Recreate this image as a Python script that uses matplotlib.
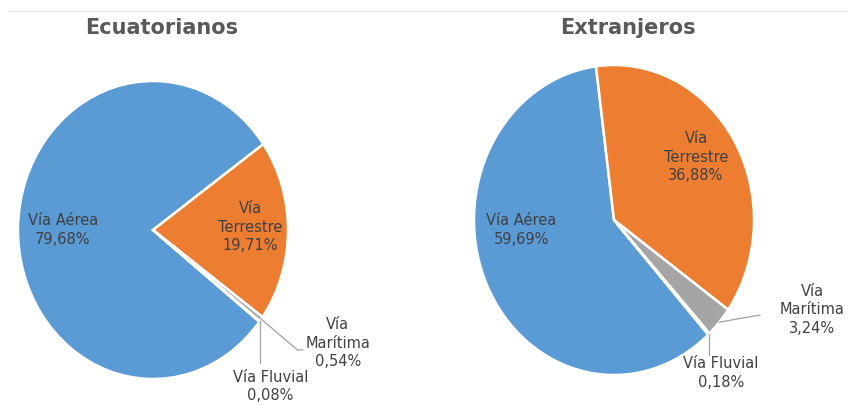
import numpy as np
import matplotlib.pyplot as plt
from matplotlib.lines import Line2D

# data
categories = ["Vía Aérea", "Vía Terrestre", "Vía Marítima", "Vía Fluvial"]
ecuatorianos = [79.68, 19.71, 0.54, 0.08]
extranjeros = [59.69, 36.88, 3.24, 0.18]
titles = ["Ecuatorianos", "Extranjeros"]
label_ecu = ["Vía Aérea\n79,68%", "Vía\nTerrestre\n19,71%", "Vía\nMarítima\n0,54%", "Vía Fluvial\n0,08%"]
label_ext = ["Vía Aérea\n59,69%", "Vía\nTerrestre\n36,88%", "Vía\nMarítima\n3,24%", "Vía Fluvial\n0,18%"]

colors = ["#5B9BD5", "#ED7D31", "#A5A5A5", "#FFC000"]
txt = "#404040"
fs = 10.5

W, H = 848, 405
fig = plt.figure(figsize=(W / 100, H / 100), dpi=100)
fig.patch.set_facecolor("white")

# thin line at the top
fig.add_artist(Line2D([8 / W, 1], [1 - 11 / H, 1 - 11 / H], color="#E8E8E8", lw=1))


def pie_axes(cx, cy, rx, ry):
    ax = fig.add_axes([(cx - rx) / W, (H - cy - ry) / H, 2 * rx / W, 2 * ry / H])
    return ax


def draw(ax, values, labels, start, inner_pos, outer_pos, leaders):
    wedges, _ = ax.pie(values, colors=colors, startangle=start, counterclock=False,
                       radius=1, wedgeprops=dict(edgecolor="white", linewidth=1.8))
    ax.set_aspect("auto")
    ax.set_xlim(-1, 1)
    ax.set_ylim(-1, 1)
    ax.axis("off")
    for i in range(2):
        ax.text(*inner_pos[i], labels[i], ha="center", va="center", fontsize=fs,
                color=txt, linespacing=1.3)
    for i in range(2, 4):
        ax.text(*outer_pos[i - 2], labels[i], ha="center", va="center", fontsize=fs,
                color=txt, linespacing=1.3)
    # leader lines from mid angle of tiny slices
    for w, pts in zip(wedges[2:], leaders):
        a = np.deg2rad((w.theta1 + w.theta2) / 2)
        xs = [np.cos(a)] + [p[0] for p in pts]
        ys = [np.sin(a)] + [p[1] for p in pts]
        if pts and pts[0][0] is None:
            xs = [np.cos(a), np.cos(a)]
            ys = [np.sin(a), pts[0][1]]
        ax.plot(xs, ys, color="#A0A0A0", lw=0.9, clip_on=False)


ax1 = pie_axes(153, 230, 135, 149)
draw(ax1, ecuatorianos, label_ecu, -38.0,
     [(-0.667, 0.0), (0.72, 0.02)],
     [(1.37, -0.76), (0.87, -1.05)],
     [[(1.07, -0.805), (1.11, -0.805)], [(None, -0.89)]])

ax2 = pie_axes(614, 220, 140, 155)
draw(ax2, extranjeros, label_ext, -47.7,
     [(-0.664, -0.065), (0.586, 0.406)],
     [(1.414, -0.58), (0.764, -0.987)],
     [[(1.043, -0.613)], [(None, -0.87)]])

fig.text(162 / W, 1 - 28 / H, titles[0], ha="center", va="center", fontsize=15,
         fontweight="bold", color="#595959")
fig.text(628 / W, 1 - 28 / H, titles[1], ha="center", va="center", fontsize=15,
         fontweight="bold", color="#595959")

fig.savefig("out.png", dpi=100, facecolor="white")
